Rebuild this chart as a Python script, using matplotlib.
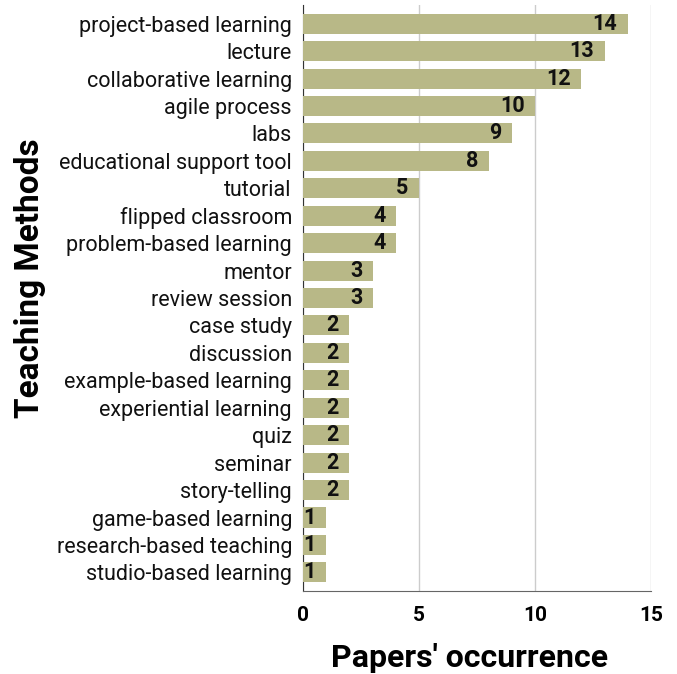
import matplotlib
matplotlib.use("Agg")
import matplotlib.pyplot as plt

categories = ["project-based learning", "lecture", "collaborative learning", "agile process",
              "labs", "educational support tool", "tutorial", "flipped classroom",
              "problem-based learning", "mentor", "review session", "case study",
              "discussion", "example-based learning", "experiential learning", "quiz",
              "seminar", "story-telling", "game-based learning", "research-based teaching",
              "studio-based learning"]
values = [14, 13, 12, 10, 9, 8, 5, 4, 4, 3, 3, 2, 2, 2, 2, 2, 2, 2, 1, 1, 1]
xticks = [0, 5, 10, 15]

plt.rcParams['font.family'] = ['Roboto', 'DejaVu Sans']

fig = plt.figure(figsize=(6.77, 6.74), dpi=100)
ax = fig.add_axes([0.4476, 0.1231, 0.514, 0.8695])

n = len(categories)
ypos = list(range(n))
ax.barh(ypos, values, height=0.73, color="#b8b887", zorder=3)
ax.set_ylim(n - 1 + 0.68, -0.68)
ax.set_xlim(0, 15)
ax.set_yticks(ypos)
ax.set_yticklabels(categories, fontsize=15.5, color="#111111")
ax.set_xticks(xticks)
ax.set_xticklabels([str(t) for t in xticks], fontsize=15, fontweight="bold")
ax.tick_params(axis="y", length=0, pad=8)
ax.tick_params(axis="x", length=0, pad=11)
ax.grid(axis="x", color="#cccccc", linewidth=1, zorder=0)
for s in ["top", "right"]:
    ax.spines[s].set_visible(False)
ax.spines["left"].set_color("#333333")
ax.spines["bottom"].set_color("#666666")

for y, v in zip(ypos, values):
    ax.annotate(str(v), xy=(v, y), xytext=(-7.5, 0), textcoords="offset points",
                ha="right", va="center", fontsize=15.5, fontweight="bold",
                color="#111111", zorder=4)

ax.set_xlabel("Papers' occurrence", fontsize=23, fontweight="bold")
ax.xaxis.set_label_coords(0.48, -0.114)
ax.set_ylabel("Teaching Methods", fontsize=24, fontweight="bold")
ax.yaxis.set_label_coords(-0.784, 0.534)
ax.yaxis.label.set_va("center")
ax.xaxis.label.set_va("center")

fig.savefig("out.png", dpi=100)
